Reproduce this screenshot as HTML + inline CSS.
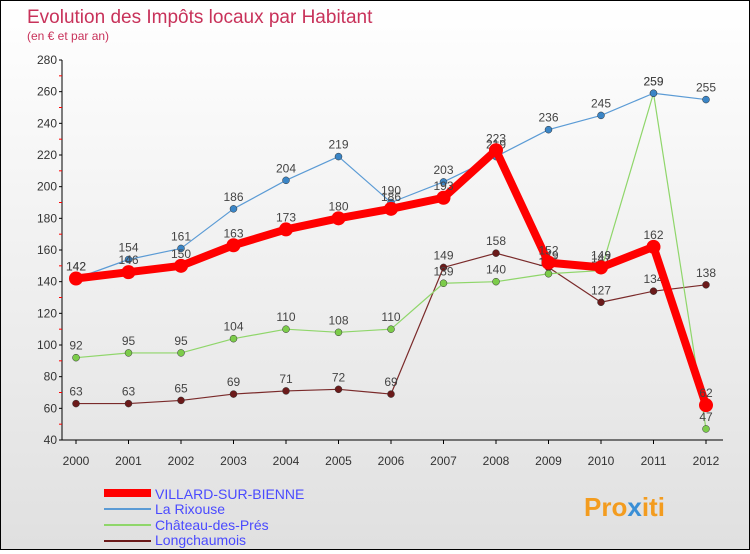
<!DOCTYPE html>
<html><head><meta charset="utf-8"><style>
body{margin:0;width:750px;height:550px;overflow:hidden;font-family:"Liberation Sans",sans-serif}
#wrap{position:relative;width:748px;height:548px;border:1px solid #000;background:linear-gradient(#fff,#e0e0e0)}
</style></head><body>
<div id="wrap">
<svg id="chart" width="748" height="548">
<text x="26" y="22" font-size="19" fill="#c8325a">Evolution des Impôts locaux par Habitant</text>
<text x="26" y="39" font-size="12" fill="#c8325a">(en € et par an)</text>
<g id="axes"></g><g id="series"></g>
<g>
<line x1="103" y1="492" x2="150" y2="492" stroke="#f00" stroke-width="8"/>
<text x="154" y="498" font-size="14" fill="#4a4aff">VILLARD-SUR-BIENNE</text>
<line x1="103" y1="508" x2="150" y2="508" stroke="#5b9bd5" stroke-width="2"/>
<text x="154" y="513" font-size="14" fill="#4a4aff">La Rixouse</text>
<line x1="103" y1="524" x2="150" y2="524" stroke="#8fd66a" stroke-width="2"/>
<text x="154" y="529" font-size="14" fill="#4a4aff">Château-des-Prés</text>
<line x1="103" y1="540" x2="150" y2="540" stroke="#6b1a1a" stroke-width="2"/>
<text x="154" y="544" font-size="14" fill="#4a4aff">Longchaumois</text>
</g>
<text x="583" y="515" font-size="26" font-weight="bold" fill="#f39c1f">Pro<tspan fill="#3a8fd6">x</tspan>iti</text>
</svg>
</div>
<script>
const years=[2000,2001,2002,2003,2004,2005,2006,2007,2008,2009,2010,2011,2012];
const yTicks=[40,60,80,100,120,140,160,180,200,220,240,260,280];
const villard=[142,146,150,163,173,180,186,193,223,152,149,162,62];
const rixouse=[142,154,161,186,204,219,190,203,219,236,245,259,255];
const chateau=[92,95,95,104,110,108,110,139,140,145,147,259,47];
const longch=[63,63,65,69,71,72,69,149,158,149,127,134,138];
const NS="http://www.w3.org/2000/svg";
const X=i=>75+i*52.5, Y=v=>439-(v-40)*(380/240);
function mk(t,a,p){const e=document.createElementNS(NS,t);for(const k in a)e.setAttribute(k,a[k]);p.appendChild(e);return e;}
const ax=document.getElementById('axes');
const yl=mk('line',{x1:61,y1:Y(280),x2:61,y2:Y(40),stroke:'#000'},ax);


const xl=mk('line',{x1:61,y1:Y(40),x2:722,y2:Y(40),stroke:'#000'},ax);


yTicks.forEach(v=>{
  mk('line',{x1:58,y1:Y(v),x2:61,y2:Y(v),stroke:'#000'},ax);
  const t=mk('text',{x:56,y:Y(v)+4,'font-size':12,'text-anchor':'end',fill:'#333'},ax);t.textContent=v;
  
  
  if(v<280) mk('line',{x1:58,y1:Y(v+10),x2:61,y2:Y(v+10),stroke:'#f00'},ax);
});
years.forEach((y,i)=>{
  mk('line',{x1:X(i),y1:Y(40),x2:X(i),y2:Y(40)+4,stroke:'#000'},ax);
  const t=mk('text',{x:X(i),y:464,'font-size':12,'text-anchor':'middle',fill:'#333'},ax);t.textContent=y;
  
  
});
const sg=document.getElementById('series');
function series(data,name,color,w,r,dot){
  const g=mk('g',{},sg);
  
  
  const p=mk('polyline',{points:data.map((v,i)=>X(i)+','+Y(v)).join(' '),fill:'none',stroke:color,'stroke-width':w,'stroke-linejoin':'round'},g);
  
  
  data.forEach((v,i)=>{
    const c=mk('circle',{cx:X(i),cy:Y(v),r:r,fill:dot,stroke:dot==='#f00'?'none':'#333','stroke-width':0.5},g);
    
    
    const t=mk('text',{x:X(i),y:Y(v)-8,'font-size':12,'text-anchor':'middle',fill:'#444'},g);t.textContent=v;
    
    
  });
}
series(longch,'longchaumois','#7a2a2a',1.2,3.5,'#6b1a1a');
series(chateau,'chateau','#8fd66a',1.2,3.5,'#7ccc4a');
series(rixouse,'rixouse','#5b9bd5',1.2,3.5,'#3a85c6');
series(villard,'villard','#f00',8,7,'#f00');
</script>
</body></html>
